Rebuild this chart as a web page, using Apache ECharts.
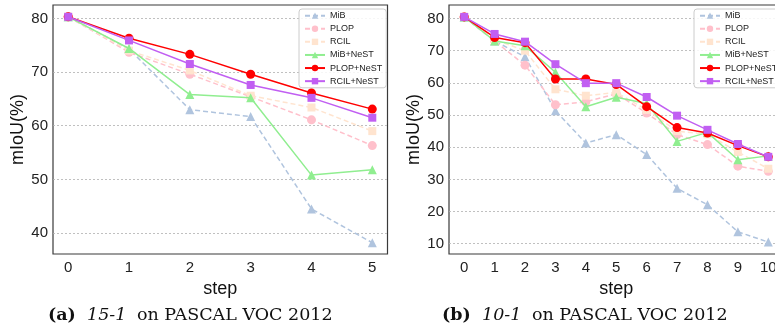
<!DOCTYPE html>
<html><head><meta charset="utf-8">
<script src="https://cdn.jsdelivr.net/npm/echarts@6/dist/echarts.min.js"></script>
<style>html,body{margin:0;padding:0;background:#fff}#c{width:775px;height:331px}</style>
</head><body><div id="c"></div>
<script>
const stepsA = [0, 1, 2, 3, 4, 5];
const stepsB = [0, 1, 2, 3, 4, 5, 6, 7, 8, 9, 10];
const seriesNames = ['MiB', 'PLOP', 'RCIL', 'MiB+NeST', 'PLOP+NeST', 'RCIL+NeST'];
const yTicksA = [40, 50, 60, 70, 80];
const yTicksB = [10, 20, 30, 40, 50, 60, 70, 80];

const A_MiB       = [80.3, 74.3, 63.0, 61.7, 44.5, 38.2];
const A_PLOP      = [80.3, 73.7, 69.6, 65.4, 61.1, 56.3];
const A_RCIL      = [80.3, 74.0, 70.3, 65.6, 63.4, 59.0];
const A_MiBNeST   = [80.3, 74.4, 65.8, 65.2, 50.8, 51.8];
const A_PLOPNeST  = [80.3, 76.3, 73.3, 69.6, 66.1, 63.1];
const A_RCILNeST  = [80.3, 75.9, 71.5, 67.6, 65.2, 61.5];

const B_MiB       = [80.5, 73.0, 68.1, 51.3, 41.3, 43.9, 37.7, 27.2, 22.1, 13.7, 10.5];
const B_PLOP      = [80.5, 73.0, 65.5, 53.2, 54.1, 56.6, 50.6, 43.9, 40.8, 34.1, 32.5];
const B_RCIL      = [80.5, 73.5, 70.0, 58.0, 56.0, 57.0, 51.6, 45.0, 44.0, 38.5, 33.3];
const B_MiBNeST   = [80.5, 73.0, 71.5, 63.3, 52.6, 55.5, 53.6, 41.8, 44.6, 36.1, 37.3];
const B_PLOPNeST  = [80.5, 74.1, 72.5, 61.2, 61.2, 59.5, 52.6, 46.1, 44.4, 40.5, 37.0];
const B_RCILNeST  = [80.5, 75.2, 72.8, 65.8, 59.9, 59.9, 55.6, 49.8, 45.4, 41.0, 37.0];

const captionA = ['(a)', '15-1', 'on PASCAL VOC 2012'];
const captionB = ['(b)', '10-1', 'on PASCAL VOC 2012'];

const styles = [
  {color: '#b0c4de', symbol: 'triangle', size: 9, dash: [5, 3]},
  {color: '#ffc0cb', symbol: 'circle', size: 9, dash: [5, 3]},
  {color: '#ffe4cf', symbol: 'rect', size: 8, dash: [5, 3]},
  {color: '#90ee90', symbol: 'triangle', size: 9, dash: 'solid'},
  {color: '#ff0000', symbol: 'circle', size: 9, dash: 'solid'},
  {color: '#c15ff2', symbol: 'rect', size: 8, dash: 'solid'}
];

const dataA = [A_MiB, A_PLOP, A_RCIL, A_MiBNeST, A_PLOPNeST, A_RCILNeST];
const dataB = [B_MiB, B_PLOP, B_RCIL, B_MiBNeST, B_PLOPNeST, B_RCILNeST];

function mkSeries(idx, steps, vals) {
  return vals.map((v, i) => ({
    name: seriesNames[i],
    type: 'line',
    xAxisIndex: idx, yAxisIndex: idx,
    data: steps.map((s, j) => [s, v[j]]),
    symbol: styles[i].symbol,
    symbolSize: styles[i].size,
    showSymbol: true,
    animation: false,
    lineStyle: {color: styles[i].color, width: 1.5, type: styles[i].dash},
    itemStyle: {color: styles[i].color, borderWidth: 0},
    z: 2 + i
  }));
}

const font = 'Liberation Sans, Arial, sans-serif';
function xAx(idx, min, max, ticks) {
  return {
    gridIndex: idx, type: 'value', min: min, max: max,
    name: 'step', nameLocation: 'middle', nameGap: 25,
    nameTextStyle: {fontFamily: font, fontSize: 18, color: '#111'},
    axisLine: {show: false},
    axisTick: {show: false, customValues: ticks},
    axisLabel: {customValues: ticks, fontFamily: font, fontSize: 15, color: '#222', margin: 6},
    splitLine: {show: false}
  };
}
function yAx(idx, min, max, ticks, gap) {
  return {
    gridIndex: idx, type: 'value', min: min, max: max,
    name: 'mIoU(%)', nameLocation: 'middle', nameGap: gap, nameRotate: 90,
    nameTextStyle: {fontFamily: font, fontSize: 18, color: '#111'},
    axisLine: {show: false},
    axisTick: {show: false, customValues: ticks},
    axisLabel: {customValues: ticks, fontFamily: font, fontSize: 15, color: '#222', margin: 5},
    splitLine: {show: true, lineStyle: {color: '#b0b0b0', width: 0.8, type: [2, 2]}}
  };
}
function legend(left) {
  return {
    data: seriesNames, orient: 'vertical', left: left, top: 9,
    itemWidth: 20, itemHeight: 8, itemGap: 3.8,
    padding: [2, 4, 2, 5],
    backgroundColor: 'rgba(255,255,255,0.85)',
    borderColor: '#cccccc', borderWidth: 1, borderRadius: 3,
    textStyle: {fontFamily: font, fontSize: 9, color: '#222', lineHeight: 9.3},
    selectedMode: false
  };
}
const serif = 'DejaVu Serif, serif';
function caption(parts, xs) {
  const weights = ['bold', 'normal', 'normal'];
  const styles2 = ['normal', 'italic', 'normal'];
  return parts.map((p, i) => ({
    type: 'text', x: xs[i], y: 315, silent: true,
    style: {text: p, fontFamily: serif, fontSize: 17.5, fontWeight: weights[i], fontStyle: styles2[i],
      fill: '#111', align: 'left', verticalAlign: 'middle'}
  }));
}

const option = {
  backgroundColor: '#fff',
  animation: false,
  grid: [
    {left: 53, top: 5, width: 334.5, height: 249, show: true, borderColor: '#3a3a3a', borderWidth: 1.2, backgroundColor: 'transparent', outerBoundsMode: 'none', containLabel: false},
    {left: 449, top: 5, width: 334.5, height: 249, show: true, borderColor: '#3a3a3a', borderWidth: 1.2, backgroundColor: 'transparent', outerBoundsMode: 'none', containLabel: false}
  ],
  xAxis: [xAx(0, -0.25, 5.25, stepsA), xAx(1, -0.5, 10.5, stepsB)],
  yAxis: [yAx(0, 36.1, 82.5, yTicksA, 23), yAx(1, 6.8, 84.2, yTicksB, 21)],
  legend: [legend(299), legend(694)],
  series: mkSeries(0, stepsA, dataA).concat(mkSeries(1, stepsB, dataB)),
  graphic: caption(captionA, [48, 87, 137]).concat(caption(captionB, [442, 482, 532]))
};
const chart = echarts.init(document.getElementById('c'), null, {renderer: 'canvas'});
chart.setOption(option);
</script></body></html>
